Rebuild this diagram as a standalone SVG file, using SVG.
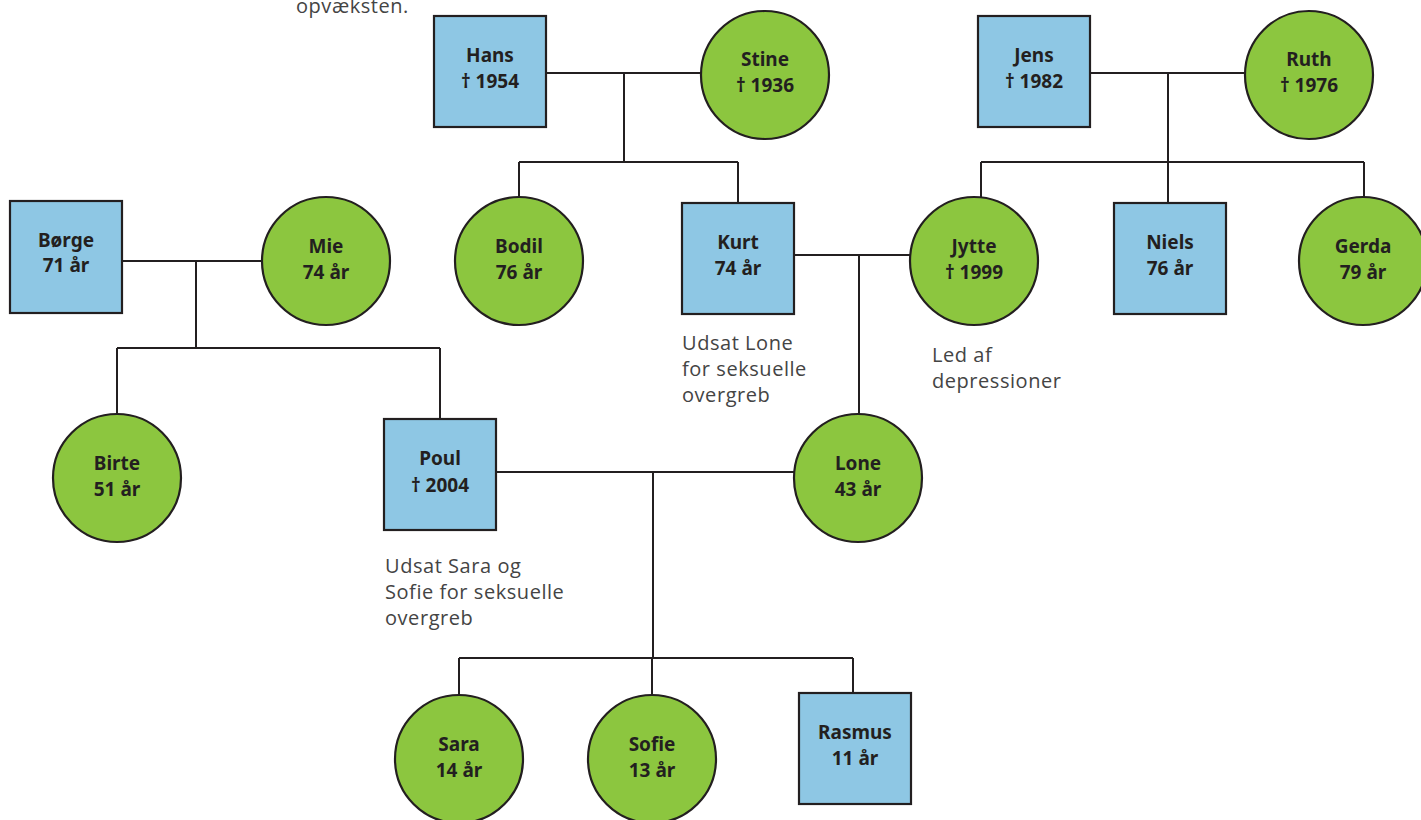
<svg xmlns="http://www.w3.org/2000/svg" width="1421" height="820" viewBox="0 0 1421 820">
<style>
.m{fill:#8EC7E4;stroke:#231f20;stroke-width:2.2}
.f{fill:#8CC63F;stroke:#231f20;stroke-width:2.2}
.n{font-family:"Noto Sans","Open Sans",sans-serif;font-weight:bold;font-size:19px;fill:#231f20;text-anchor:middle}
.a{font-family:"Open Sans","Noto Sans",sans-serif;font-size:20px;fill:#444;letter-spacing:0.55px}
.c path{fill:none;stroke:#231f20;stroke-width:2}
</style>
<rect width="1421" height="820" fill="#fff"/>
<text class="a" x="296" y="13">opvæksten.</text>
<g class="c" id="connectors">
<path d="M546 73H701M624 73V162M519 162H738M519 162V197M738 162V203"/>
<path d="M1090 73H1245M1168 73V162M981 162H1364M981 162V197M1168 162V203M1364 162V197"/>
<path d="M794 255H910M859 255V414"/>
<path d="M122 261H262M196 261V348M117 348H440M117 348V414M440 348V419"/>
<path d="M496 472H794M653 472V658M459 658H853M459 658V695M652 658V695M853 658V693"/>
</g>
<g id="hans"><rect class="m" x="434" y="16" width="112" height="111"/><text class="n" x="490" y="62">Hans</text><text class="n" x="490" y="88">† 1954</text></g>
<g id="stine"><circle class="f" cx="765" cy="75" r="64"/><text class="n" x="765" y="66">Stine</text><text class="n" x="765" y="92">† 1936</text></g>
<g id="jens"><rect class="m" x="978" y="16" width="112" height="111"/><text class="n" x="1034" y="62">Jens</text><text class="n" x="1034" y="88">† 1982</text></g>
<g id="ruth"><circle class="f" cx="1309" cy="75" r="64"/><text class="n" x="1309" y="66">Ruth</text><text class="n" x="1309" y="92">† 1976</text></g>
<g id="borge"><rect class="m" x="10" y="201" width="112" height="112"/><text class="n" x="66" y="247">Børge</text><text class="n" x="66" y="272">71 år</text></g>
<g id="mie"><circle class="f" cx="326" cy="261" r="64"/><text class="n" x="326" y="253">Mie</text><text class="n" x="326" y="279">74 år</text></g>
<g id="bodil"><circle class="f" cx="519" cy="261" r="64"/><text class="n" x="519" y="253">Bodil</text><text class="n" x="519" y="279">76 år</text></g>
<g id="kurt"><rect class="m" x="682" y="203" width="112" height="111"/><text class="n" x="738" y="249">Kurt</text><text class="n" x="738" y="275">74 år</text></g>
<g id="jytte"><circle class="f" cx="974" cy="261" r="64"/><text class="n" x="974" y="253">Jytte</text><text class="n" x="974" y="279">† 1999</text></g>
<g id="niels"><rect class="m" x="1114" y="203" width="112" height="111"/><text class="n" x="1170" y="249">Niels</text><text class="n" x="1170" y="275">76 år</text></g>
<g id="gerda"><circle class="f" cx="1363" cy="261" r="64"/><text class="n" x="1363" y="253">Gerda</text><text class="n" x="1363" y="279">79 år</text></g>
<g id="birte"><circle class="f" cx="117" cy="478" r="64"/><text class="n" x="117" y="470">Birte</text><text class="n" x="117" y="496">51 år</text></g>
<g id="poul"><rect class="m" x="384" y="419" width="112" height="111"/><text class="n" x="440" y="465">Poul</text><text class="n" x="440" y="492">† 2004</text></g>
<g id="lone"><circle class="f" cx="858" cy="478" r="64"/><text class="n" x="858" y="470">Lone</text><text class="n" x="858" y="496">43 år</text></g>
<g id="sara"><circle class="f" cx="459" cy="759" r="64"/><text class="n" x="459" y="751">Sara</text><text class="n" x="459" y="777">14 år</text></g>
<g id="sofie"><circle class="f" cx="652" cy="759" r="64"/><text class="n" x="652" y="751">Sofie</text><text class="n" x="652" y="777">13 år</text></g>
<g id="rasmus"><rect class="m" x="799" y="693" width="112" height="111"/><text class="n" x="855" y="739">Rasmus</text><text class="n" x="855" y="765">11 år</text></g>
<text class="a" x="682" y="350">Udsat Lone</text>
<text class="a" x="682" y="376">for seksuelle</text>
<text class="a" x="682" y="402">overgreb</text>
<text class="a" x="932" y="362">Led af</text>
<text class="a" x="932" y="388">depressioner</text>
<text class="a" x="385" y="573">Udsat Sara og</text>
<text class="a" x="385" y="599">Sofie for seksuelle</text>
<text class="a" x="385" y="625">overgreb</text>
</svg>
